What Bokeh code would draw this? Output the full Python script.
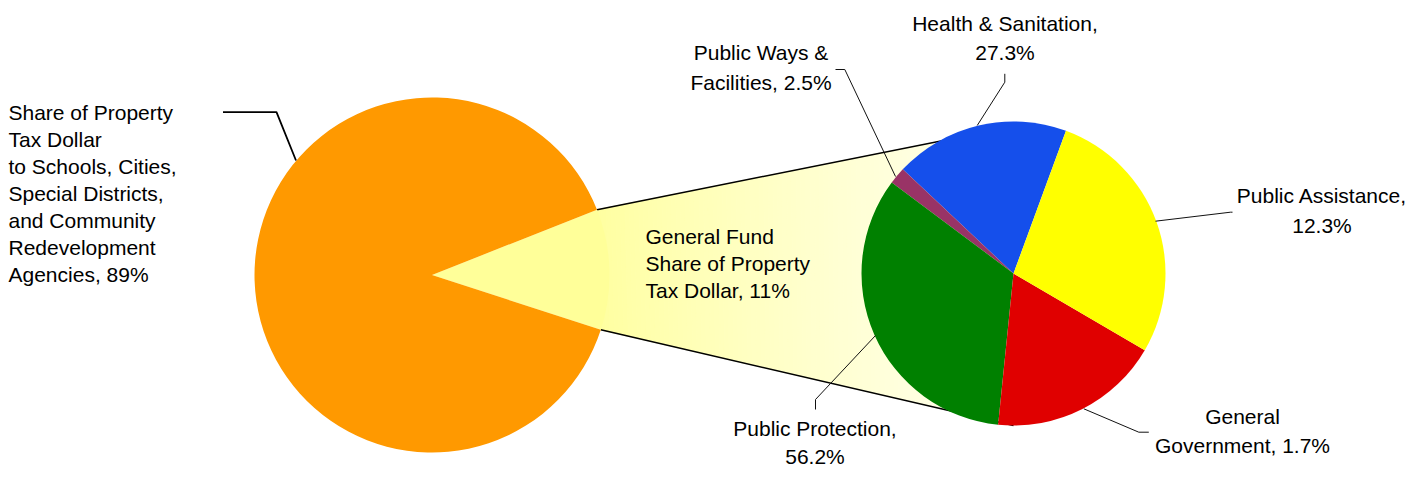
import math
from bokeh.plotting import figure
from bokeh.models import Range1d
from bokeh.core.properties import value
from bokeh.embed import file_html
from bokeh.resources import INLINE

# ---------------- data ----------------
main_categories = ["Schools, Cities, Special Districts, CRAs", "General Fund"]
main_shares = [89, 11]
main_colors = ["#FF9900", "#FFFF99"]

fund_categories = ["Health & Sanitation", "Public Ways & Facilities", "Public Protection",
                   "General Government", "Public Assistance"]
fund_slice_shares = [18.6, 1.8, 33.6, 18.2, 27.8]          # slice sizes as drawn in the picture
fund_label_pcts = ["27.3%", "2.5%", "56.2%", "1.7%", "12.3%"]  # percentages as printed in labels
fund_colors = ["#154FEB", "#993366", "#008000", "#E00000", "#FFFF00"]

left_label_lines = ["Share of Property", "Tax Dollar", "to Schools, Cities,", "Special Districts,",
                    "and Community", "Redevelopment", "Agencies, 89%"]
fund_label_lines = ["General Fund", "Share of Property", "Tax Dollar, 11%"]
slice_label_lines = [["Health & Sanitation,", "27.3%"],
                     ["Public Ways &", "Facilities, 2.5%"],
                     ["Public Protection,", "56.2%"],
                     ["General", "Government, 1.7%"],
                     ["Public Assistance,", "12.3%"]]

# ---------------- layout (picture pixel coordinates, y down) ----------------
W, H = 1409, 471
TOP = 487
def py(Y):
    return TOP - Y

FONT = value("Liberation Sans")
FS = "21px"

big_c = (431.5, py(274.5)); big_r = 177.5
gap_center_deg = 1.8
small_c = (1013.0, py(273.0)); small_r = 152.0
small_start_deg = 69.8

p = figure(width=W, height=H, x_range=Range1d(0, W), y_range=Range1d(TOP - H, TOP),
           output_backend="svg", toolbar_location=None, min_border=0,
           x_axis_type=None, y_axis_type=None)
p.grid.visible = False
p.outline_line_color = None
p.background_fill_color = "white"
p.border_fill_color = "white"

# big pie angles
gap_deg = main_shares[1] / sum(main_shares) * 360.0
gap_start = math.radians(gap_center_deg - gap_deg / 2)
gap_end = math.radians(gap_center_deg + gap_deg / 2)

Eu = (big_c[0] + big_r * math.cos(gap_end), big_c[1] + big_r * math.sin(gap_end))
El = (big_c[0] + big_r * math.cos(gap_start), big_c[1] + big_r * math.sin(gap_start))
T = (small_c[0], small_c[1] + small_r * 0.967)
B = (small_c[0], small_c[1] - small_r)

# gradient fill between big pie and small pie
N = 90
xs, ys, cols = [], [], []
for i in range(N):
    t0, t1 = i / N, (i + 1) / N
    u0 = (Eu[0] + t0 * (T[0] - Eu[0]), Eu[1] + t0 * (T[1] - Eu[1]))
    u1 = (Eu[0] + t1 * (T[0] - Eu[0]), Eu[1] + t1 * (T[1] - Eu[1]))
    l0 = (El[0] + t0 * (B[0] - El[0]), El[1] + t0 * (B[1] - El[1]))
    l1 = (El[0] + t1 * (B[0] - El[0]), El[1] + t1 * (B[1] - El[1]))
    xs.append([u0[0], u1[0], l1[0], l0[0]])
    ys.append([u0[1], u1[1], l1[1], l0[1]])
    tm = (t0 + t1) / 2
    b = int(round(160 + (240 - 160) * tm ** 0.85))
    cols.append("#%02X%02X%02X" % (255, 255, b))
p.patches(xs, ys, fill_color=cols, line_color=cols, line_width=1)

# connector lines
p.line([Eu[0], T[0]], [Eu[1], T[1]], line_color="black", line_width=1.5)
p.line([El[0], B[0]], [El[1], B[1]], line_color="black", line_width=1.5)

# big pie: general fund gap sector and the remaining share
p.wedge(x=[big_c[0]], y=[big_c[1]], radius=big_r, start_angle=[gap_start], end_angle=[gap_end],
        fill_color=main_colors[1], line_color=None)
p.wedge(x=[big_c[0]], y=[big_c[1]], radius=big_r, start_angle=[gap_end],
        end_angle=[gap_start + 2 * math.pi], fill_color=main_colors[0], line_color=None)

# small pie
tot = sum(fund_slice_shares)
starts, ends = [], []
a = math.radians(small_start_deg)
for s in fund_slice_shares:
    starts.append(a)
    a += s / tot * 2 * math.pi
    ends.append(a)
p.wedge(x=[small_c[0]] * len(starts), y=[small_c[1]] * len(starts), radius=small_r,
        start_angle=starts, end_angle=ends, fill_color=fund_colors, line_color=None)

# leader lines
p.line([222.5, 276, 295.5], [py(111.7), py(111.7), py(160)], line_color="black", line_width=1.8)
leaders_x = [[1004.3, 1004.3, 976.7],
             [835, 844.3, 895],
             [875, 815, 815],
             [1083.3, 1138.3, 1148.3],
             [1155, 1230, 1232]]
leaders_y = [[py(73.3), py(81.7), py(125)],
             [py(69), py(69), py(176)],
             [py(335), py(399), py(409)],
             [py(408.3), py(431.7), py(431.7)],
             [py(220.7), py(211.7), py(211.7)]]
p.multi_line(leaders_x, leaders_y, line_color="#111111", line_width=1)

# texts (y = vertical centre of each line)
def put_lines(lines, x, y0, dy, align):
    p.text(x=[x] * len(lines), y=[py(y0 + k * dy) for k in range(len(lines))], text=lines,
           text_font=FONT, text_font_size=FS, text_align=align,
           text_baseline="middle", text_color="black")

put_lines(left_label_lines, 8, 111.6, 27.0, "left")
put_lines(fund_label_lines, 645, 236.0, 27.2, "left")
label_pos = [(1004.5, 22.9, 28.8),
             (760.5, 51.7, 30.0),
             (814.5, 427.5, 28.0),
             (1242.0, 415.7, 29.4),
             (1321.5, 195.1, 30.0)]
for lines, (lx, ly, ldy) in zip(slice_label_lines, label_pos):
    put_lines(lines, lx, ly, ldy, "center")

open("out.html", "w").write(file_html(p, INLINE))
